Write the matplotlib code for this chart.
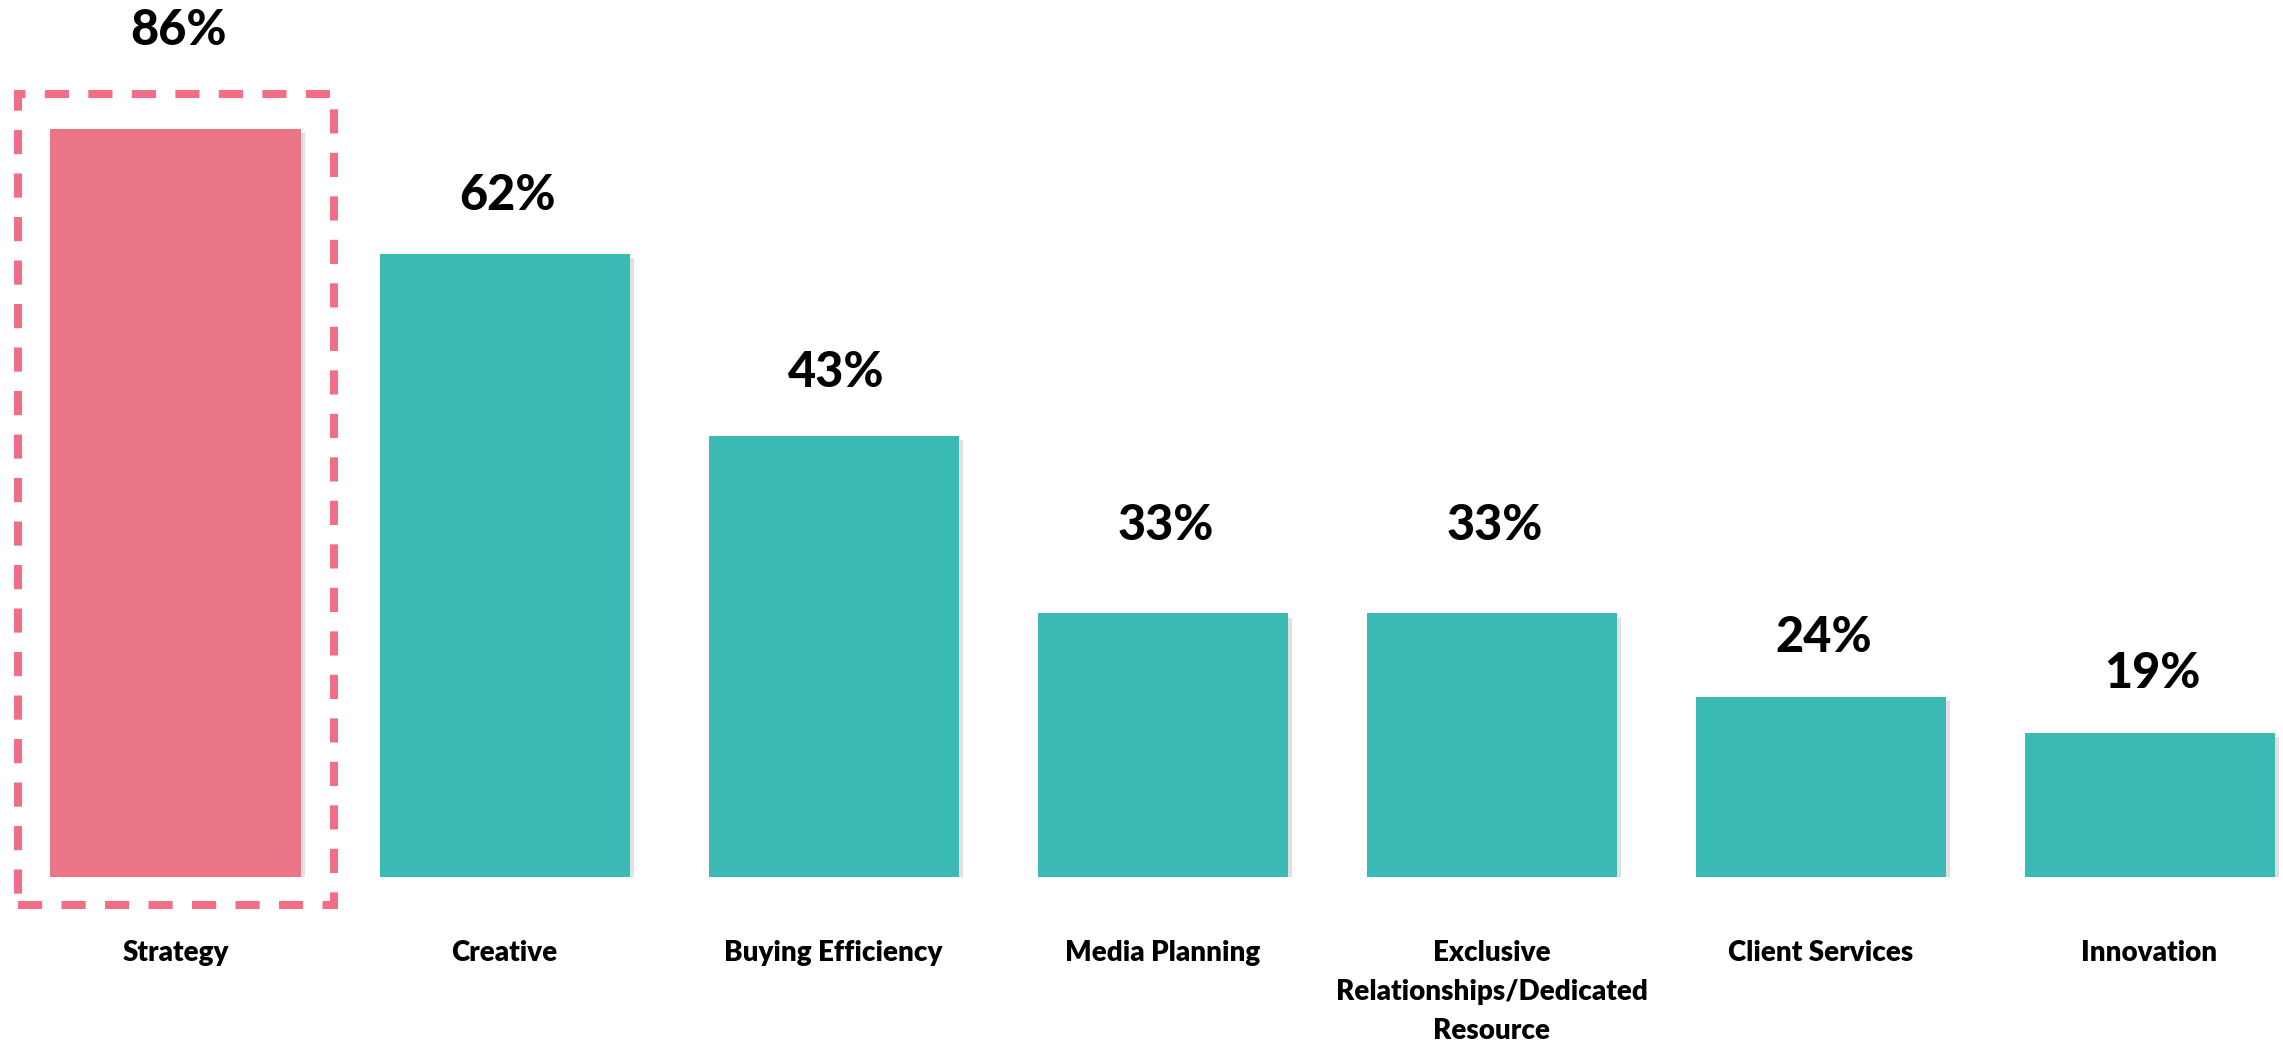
import matplotlib
matplotlib.use("Agg")
import matplotlib.pyplot as plt
from matplotlib.patches import Rectangle
import matplotlib.patheffects as pe

# ---- data ----
categories = ["Strategy", "Creative", "Buying Efficiency", "Media Planning",
              "Exclusive\nRelationships/Dedicated\nResource", "Client Services", "Innovation"]
bar_heights = [86, 71.6, 50.7, 30.3, 30.3, 20.7, 16.6]   # drawn bar heights (as in picture)
value_labels = ["86%", "62%", "43%", "33%", "33%", "24%", "19%"]
highlight = [True, False, False, False, False, False, False]

# ---- style ----
PINK = "#E97587"
TEAL = "#3BBAB5"
BOX = "#F26D86"
label_gap_px = [84, 44, 49, 73, 73, 45, 45]
FONT = ["Lato", "DejaVu Sans"]

W, H = 2283, 1043
fig = plt.figure(figsize=(W / 100, H / 100), dpi=100)
base_px = 877
ax = fig.add_axes([0, (H - base_px) / H, 1, base_px / H])
px_per_unit = 748 / 86.0
spacing = 329.0
x0 = 175.5
ax.set_xlim(-x0 / spacing, (W - x0) / spacing)
ax.set_ylim(0, base_px / px_per_unit)
ax.axis("off")

xs = list(range(len(categories)))
colors = [PINK if h else TEAL for h in highlight]
bars = ax.bar(xs, bar_heights, width=250 / spacing, color=colors, zorder=2)
for b in bars:
    b.set_path_effects([pe.SimplePatchShadow(offset=(3, -3), shadow_rgbFace="#999999", alpha=0.3),
                        pe.Normal()])

for x, h, lab, gap in zip(xs, bar_heights, value_labels, label_gap_px):
    ax.annotate(lab, (x, h), xytext=(3, gap), textcoords="offset pixels",
                ha="center", va="baseline", fontsize=35, fontweight="black",
                family=FONT, color="black", annotation_clip=False)

trans = ax.get_xaxis_transform()
for x, c in zip(xs, categories):
    ax.text(x, -(940 - base_px) / base_px, c, transform=trans, ha="center", va="top",
            fontsize=20, fontweight="heavy", family=FONT, color="black",
            linespacing=1.62, clip_on=False)

# dashed highlight box around the highlighted bar
for x, h, hl in zip(xs, bar_heights, highlight):
    if hl:
        left = x - 158 / spacing
        right = x + 158 / spacing
        bottom = -(905 - base_px) / px_per_unit
        top = h + (129 - 94) / px_per_unit
        ax.add_patch(Rectangle((left, bottom), right - left, top - bottom, fill=False,
                               edgecolor=BOX, linewidth=5.8, linestyle=(0, (3, 2.4)),
                               clip_on=False, zorder=3))

fig.savefig("out.png", dpi=100, facecolor="white")
